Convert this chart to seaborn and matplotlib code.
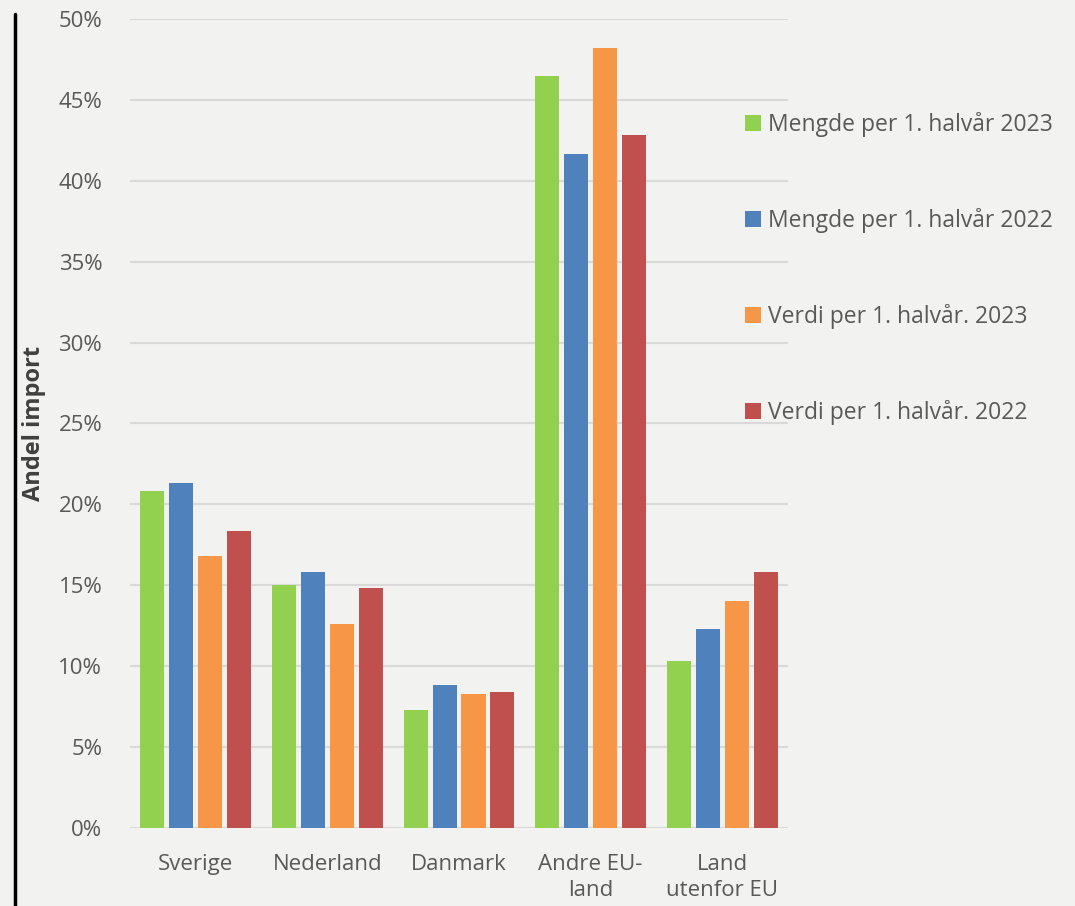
import numpy as np
import pandas as pd
import matplotlib
matplotlib.use("Agg")
import matplotlib.pyplot as plt
import seaborn as sns
from matplotlib.lines import Line2D
from matplotlib.ticker import PercentFormatter

# Data
countries = ["Sverige", "Nederland", "Danmark", "Andre EU-\nland", "Land\nutenfor EU"]
series = ["Mengde per 1. halvår 2023", "Mengde per 1. halvår 2022",
          "Verdi per 1. halvår. 2023", "Verdi per 1. halvår. 2022"]
mengde_2023 = [20.8, 15.0, 7.3, 46.5, 10.3]
mengde_2022 = [21.3, 15.85, 8.85, 41.65, 12.3]
verdi_2023 = [16.8, 12.6, 8.3, 48.2, 14.05]
verdi_2022 = [18.35, 14.85, 8.4, 42.8, 15.85]
colors = ["#92d050", "#4f81bd", "#f79646", "#c0504d"]

df = pd.DataFrame({
    "land": countries * 4,
    "serie": np.repeat(series, len(countries)),
    "andel": mengde_2023 + mengde_2022 + verdi_2023 + verdi_2022,
})

bg = "#f2f2f0"
sns.set_theme(style="white")
plt.rcParams['font.family'] = ['Open Sans', 'DejaVu Sans']

fig = plt.figure(figsize=(10.75, 9.06), dpi=100, facecolor=bg)
ax = fig.add_axes([0.121, 0.0861, 0.612, 0.893])
ax.set_facecolor(bg)

sns.barplot(data=df, x="land", y="andel", hue="serie", palette=colors,
            width=0.88, gap=0.17, ax=ax, saturation=1, legend=True,
            edgecolor="none", linewidth=0)

ax.set_ylim(0, 50)
ax.set_xlim(-0.5, 4.5)
ax.set_yticks(np.arange(0, 51, 5))
ax.yaxis.set_major_formatter(PercentFormatter(decimals=0))
ax.grid(axis="y", color="#d9d9d9", linewidth=1.5)
ax.set_axisbelow(True)
for s in ax.spines.values():
    s.set_visible(False)
ax.tick_params(axis="both", length=0, labelsize=16, colors="#595959")
ax.tick_params(axis="y", pad=20)
ax.tick_params(axis="x", pad=19)
for t in ax.get_xticklabels():
    t.set_linespacing(1.3)
ax.set_xlabel("")
ax.set_ylabel("Andel import", fontsize=17, fontweight="bold", color="#404040")
ax.yaxis.set_label_coords(-0.128, 0.5)

# legend on the right
handles, labels = ax.get_legend_handles_labels()
ax.legend_.remove()
fig.legend(handles, labels, loc="upper left", bbox_to_anchor=(0.674, 0.899),
           frameon=False, fontsize=16.5, labelspacing=3.1, handlelength=0.7,
           handleheight=0.7, handletextpad=0.3, labelcolor="#595959")

# black vertical line at left edge
fig.add_artist(Line2D([0.014, 0.014], [0.0, 0.985], color="black", linewidth=2.5,
                      transform=fig.transFigure))

fig.savefig("out.png", dpi=100, facecolor=bg)
